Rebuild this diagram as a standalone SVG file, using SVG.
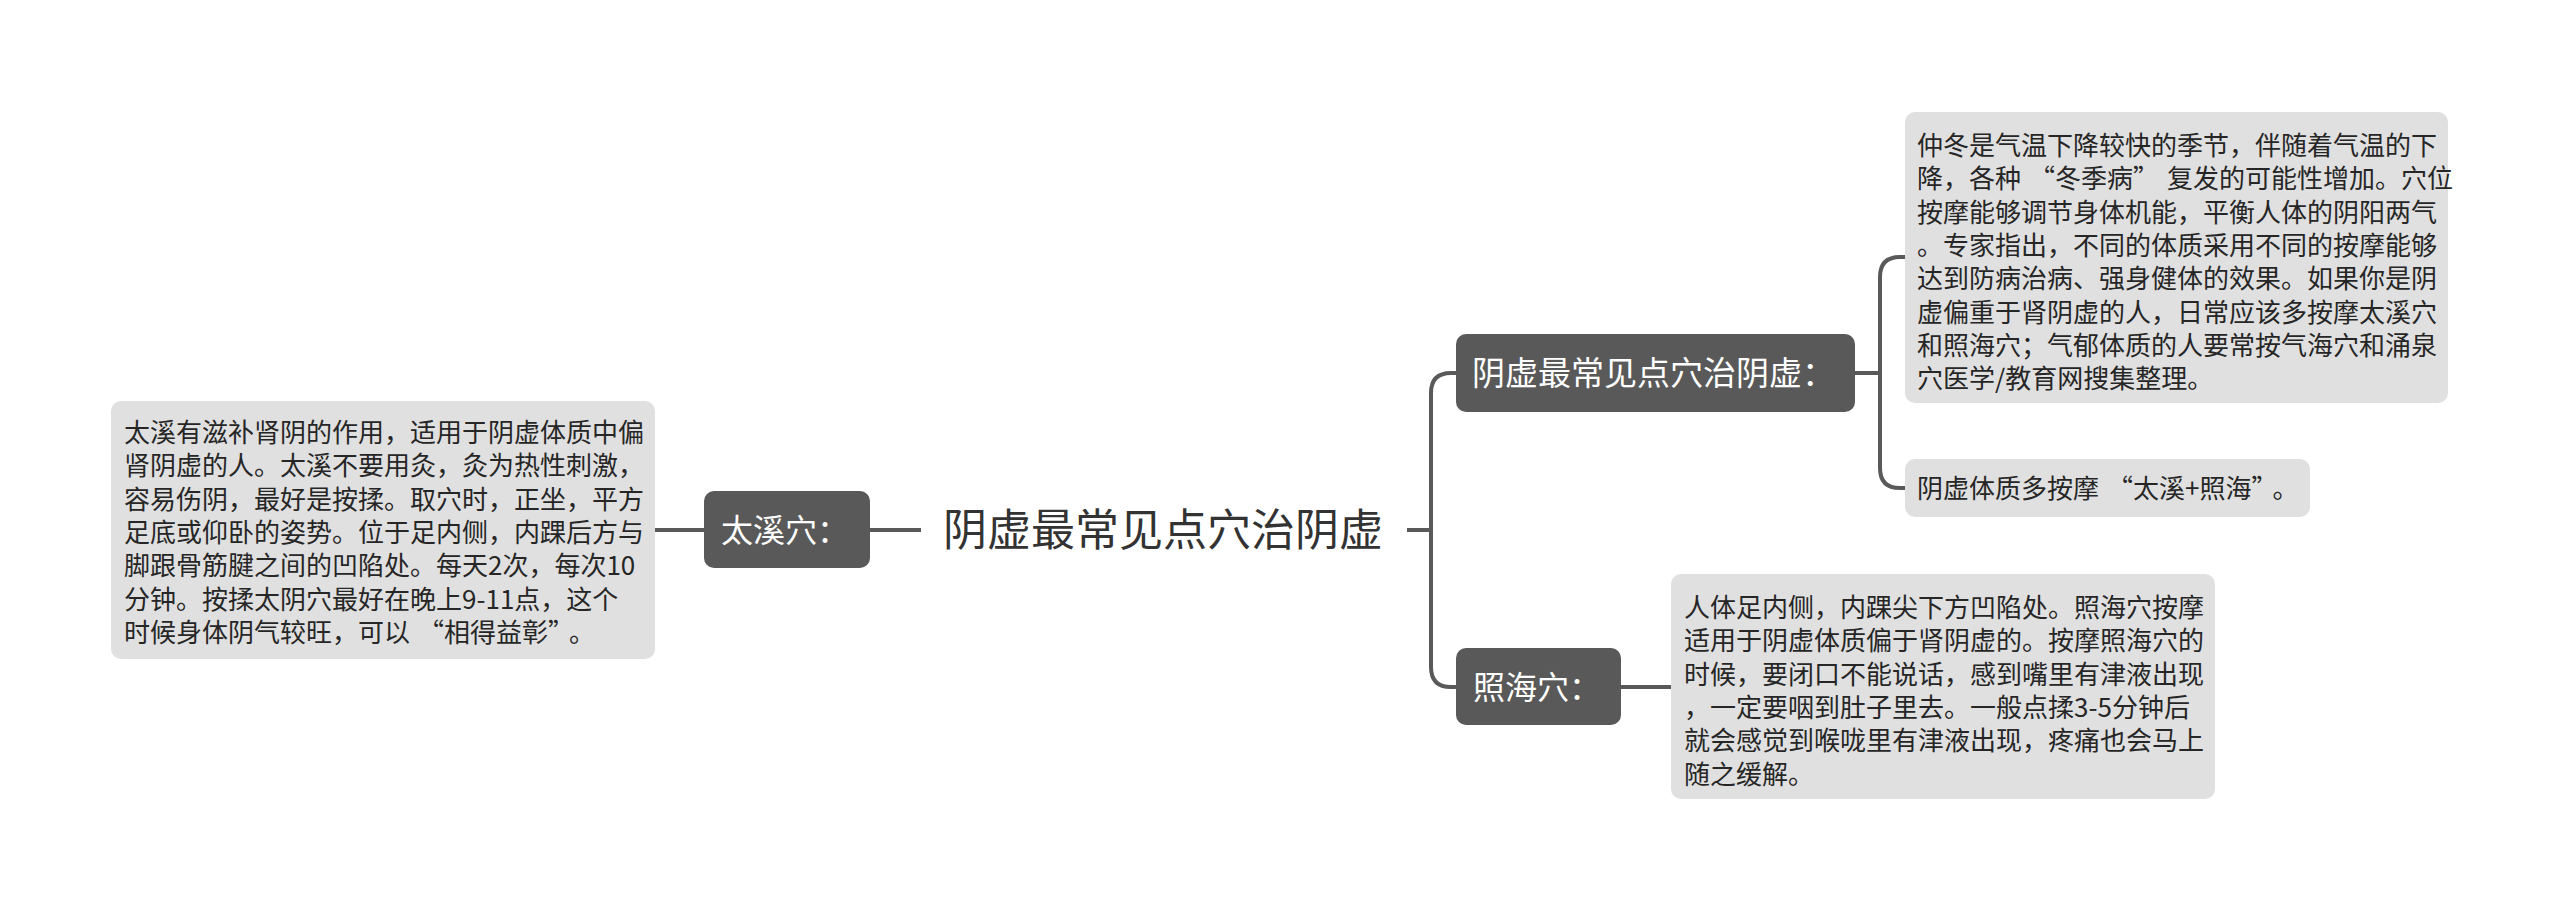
<svg xmlns="http://www.w3.org/2000/svg" width="2560" height="911" viewBox="0 0 2560 911">
<style>
.leaf{fill:#e0e0e0}
.dark{fill:#595959}
.lt{font-family:"Noto Sans CJK SC","Noto Sans",sans-serif;font-size:26px;fill:#262626}
.dt{font-family:"Noto Sans CJK SC","Noto Sans",sans-serif;font-size:32px;fill:#ffffff}
.rt{font-family:"Noto Sans CJK SC","Noto Sans",sans-serif;font-size:44px;fill:#333333}
.conn{fill:none;stroke:#595959;stroke-width:4}
</style>
<rect width="2560" height="911" fill="#ffffff"/>
<g id="connectors">
<path class="conn" d="M655,530 H704"/>
<path class="conn" d="M870,530 H921"/>
<path class="conn" d="M1407,530 H1431"/>
<path class="conn" d="M1456,373 H1451 Q1431,373 1431,393 V667 Q1431,687 1451,687 H1456"/>
<path class="conn" d="M1855,373 H1880"/>
<path class="conn" d="M1905,257 H1900 Q1880,257 1880,277 V468 Q1880,488 1900,488 H1905"/>
<path class="conn" d="M1621,687 H1671"/>
</g>
<g id="root">
<text class="rt" x="943" y="546">阴虚最常见点穴治阴虚</text>
</g>
<g id="taixi">
<rect class="dark" x="704" y="491" width="166" height="77" rx="10"/>
<text class="dt" x="721" y="542">太溪穴：</text>
</g>
<g id="taixi-leaf">
<rect class="leaf" x="111" y="401" width="544" height="258" rx="10"/>
<text class="lt" x="124" y="442">太溪有滋补肾阴的作用，适用于阴虚体质中偏</text>
<text class="lt" x="124" y="475.3">肾阴虚的人。太溪不要用灸，灸为热性刺激，</text>
<text class="lt" x="124" y="508.6">容易伤阴，最好是按揉。取穴时，正坐，平方</text>
<text class="lt" x="124" y="541.9">足底或仰卧的姿势。位于足内侧，内踝后方与</text>
<text class="lt" x="124" y="575.2">脚跟骨筋腱之间的凹陷处。每天2次，每次10</text>
<text class="lt" x="124" y="608.5">分钟。按揉太阴穴最好在晚上9-11点，这个</text>
<text class="lt" x="124" y="641.8">时候身体阴气较旺，可以<tspan dx="8">“</tspan>相得益彰”<tspan dx="8">。</tspan></text>
</g>
<g id="yinxu">
<rect class="dark" x="1456" y="334" width="399" height="78" rx="10"/>
<text class="dt" x="1472" y="385" style="font-size:33px">阴虚最常见点穴治阴虚：</text>
</g>
<g id="yinxu-leaf1">
<rect class="leaf" x="1905" y="112" width="543" height="291" rx="10"/>
<text class="lt" x="1917" y="155">仲冬是气温下降较快的季节，伴随着气温的下</text>
<text class="lt" x="1917" y="188.3">降，各种<tspan dx="8">“</tspan>冬季病”<tspan dx="8">复发的可能性增加。穴位</tspan></text>
<text class="lt" x="1917" y="221.6">按摩能够调节身体机能，平衡人体的阴阳两气</text>
<text class="lt" x="1917" y="254.9">。专家指出，不同的体质采用不同的按摩能够</text>
<text class="lt" x="1917" y="288.2">达到防病治病、强身健体的效果。如果你是阴</text>
<text class="lt" x="1917" y="321.5">虚偏重于肾阴虚的人，日常应该多按摩太溪穴</text>
<text class="lt" x="1917" y="354.8">和照海穴；气郁体质的人要常按气海穴和涌泉</text>
<text class="lt" x="1917" y="388.1">穴医学/教育网搜集整理。</text>
</g>
<g id="yinxu-leaf2">
<rect class="leaf" x="1905" y="459" width="405" height="58" rx="10"/>
<text class="lt" x="1917" y="498">阴虚体质多按摩<tspan dx="8">“</tspan>太溪+照海”<tspan dx="8">。</tspan></text>
</g>
<g id="zhaohai">
<rect class="dark" x="1456" y="648" width="165" height="77" rx="10"/>
<text class="dt" x="1473" y="699">照海穴：</text>
</g>
<g id="zhaohai-leaf">
<rect class="leaf" x="1671" y="574" width="544" height="225" rx="10"/>
<text class="lt" x="1684" y="617">人体足内侧，内踝尖下方凹陷处。照海穴按摩</text>
<text class="lt" x="1684" y="650.3">适用于阴虚体质偏于肾阴虚的。按摩照海穴的</text>
<text class="lt" x="1684" y="683.6">时候，要闭口不能说话，感到嘴里有津液出现</text>
<text class="lt" x="1684" y="716.9">，一定要咽到肚子里去。一般点揉3-5分钟后</text>
<text class="lt" x="1684" y="750.2">就会感觉到喉咙里有津液出现，疼痛也会马上</text>
<text class="lt" x="1684" y="783.5">随之缓解。</text>
</g>
</svg>
